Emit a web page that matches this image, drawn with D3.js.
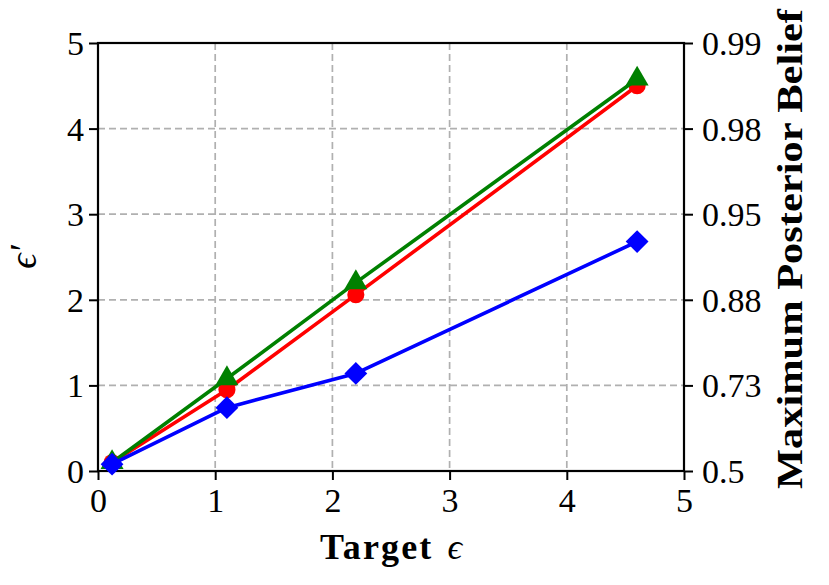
<!DOCTYPE html>
<html>
<head>
<meta charset="utf-8">
<script src="https://cdn.jsdelivr.net/npm/d3@7"></script>
<style>
  body { margin: 0; background: #fff; }
  svg { display: block; }
  .tick text { font-family: "Liberation Serif", serif; font-size: 34px; fill: #000; }
</style>
</head>
<body>
<svg id="chart" width="829" height="585"></svg>
<script>
// target epsilon on x
var targetEps = [0.12, 1.1, 2.2, 4.6];
// measured epsilon' per series
var redVals = [0.1, 0.95, 2.06, 4.5];
var greenVals = [0.1, 1.08, 2.2, 4.58];
var blueVals = [0.08, 0.74, 1.14, 2.68];
var xTicks = [0, 1, 2, 3, 4, 5];
var yTicks = [0, 1, 2, 3, 4, 5];
var rightLabels = ['0.5', '0.73', '0.88', '0.95', '0.98', '0.99'];

var margin = {top: 43, right: 145, bottom: 114, left: 98},
	width = 829 - margin.left - margin.right,
	height = 585 - margin.top - margin.bottom;

var svg = d3.select('#chart')
	.append('g')
	.attr('transform', 'translate(' + margin.left + ',' + margin.top + ')');

var x = d3.scaleLinear().domain([0, 5]).range([0, width]);
var y = d3.scaleLinear().domain([0, 5]).range([height, 0]);

// grid
svg.append('g')
	.selectAll('line.vg')
	.data(xTicks.slice(1, -1))
	.enter().append('line')
	.attr('x1', function (d) { return x(d); })
	.attr('x2', function (d) { return x(d); })
	.attr('y1', 0).attr('y2', height)
	.attr('stroke', '#b0b0b0').attr('stroke-width', 1.7)
	.attr('stroke-dasharray', '7,4');
svg.append('g')
	.selectAll('line.hg')
	.data(yTicks.slice(1, -1))
	.enter().append('line')
	.attr('y1', function (d) { return y(d); })
	.attr('y2', function (d) { return y(d); })
	.attr('x1', 0).attr('x2', width)
	.attr('stroke', '#b0b0b0').attr('stroke-width', 1.7)
	.attr('stroke-dasharray', '7,4');

function styleAxis(g) {
	g.select('.domain').remove();
	g.selectAll('.tick line').attr('stroke', '#000').attr('stroke-width', 2);
}

svg.append('g')
	.attr('transform', 'translate(0,' + height + ')')
	.call(d3.axisBottom(x).tickValues(xTicks).tickSize(9).tickPadding(8).tickFormat(d3.format('d')))
	.call(styleAxis);
svg.append('g')
	.call(d3.axisLeft(y).tickValues(yTicks).tickSize(9).tickPadding(5).tickFormat(d3.format('d')))
	.call(styleAxis)
	.selectAll('.tick text').attr('dy', '0.34em');
svg.append('g')
	.attr('transform', 'translate(' + width + ',0)')
	.call(d3.axisRight(y).tickValues(yTicks).tickSize(9).tickPadding(9)
		.tickFormat(function (d, i) { return rightLabels[i]; }))
	.call(styleAxis)
	.selectAll('.tick text').attr('dy', '0.34em');

// frame
svg.append('rect')
	.attr('width', width).attr('height', height)
	.attr('fill', 'none').attr('stroke', '#000').attr('stroke-width', 2.2);

var line = d3.line()
	.x(function (d) { return x(d[0]); })
	.y(function (d) { return y(d[1]); });

var series = [
	{vals: redVals, color: '#ff0000', symbol: d3.symbolCircle, size: 230, rot: 0},
	{vals: greenVals, color: '#008000', symbol: d3.symbolTriangle, size: 230, rot: 0},
	{vals: blueVals, color: '#0000ff', symbol: d3.symbolSquare, size: 260, rot: 45}
];

series.forEach(function (s) {
	var pts = targetEps.map(function (t, i) { return [t, s.vals[i]]; });
	svg.append('path')
		.datum(pts)
		.attr('fill', 'none')
		.attr('stroke', s.color)
		.attr('stroke-width', 3.6)
		.attr('stroke-linejoin', 'round')
		.attr('d', line);
	svg.append('g')
		.selectAll('path')
		.data(pts)
		.enter().append('path')
		.attr('d', d3.symbol().type(s.symbol).size(s.size))
		.attr('transform', function (d) {
			return 'translate(' + x(d[0]) + ',' + y(d[1]) + ') rotate(' + s.rot + ')';
		})
		.attr('fill', s.color);
});

// axis labels
svg.append('text')
	.attr('x', 293)
	.attr('y', height + 88)
	.attr('text-anchor', 'middle')
	.style('font-family', '"Liberation Serif", serif')
	.style('font-size', '36px')
	.attr('textLength', 142)
	.html('<tspan font-weight="bold">Target</tspan><tspan font-style="italic" dx="14">ϵ</tspan>');

svg.append('text')
	.attr('transform', 'translate(-62,' + (height / 2) + ') rotate(-90)')
	.attr('text-anchor', 'middle')
	.style('font-family', '"Liberation Serif", serif')
	.style('font-size', '38px')
	.style('font-style', 'italic')
	.text('ϵ′');

svg.append('text')
	.attr('transform', 'translate(' + (width + 118) + ',' + 206 + ') rotate(-90)')
	.attr('text-anchor', 'middle')
	.style('font-family', '"Liberation Serif", serif')
	.style('font-size', '36px')
	.style('font-weight', 'bold')
	.attr('textLength', 480)
	.attr('lengthAdjust', 'spacingAndGlyphs')
	.text('Maximum Posterior Belief');
</script>
</body>
</html>
